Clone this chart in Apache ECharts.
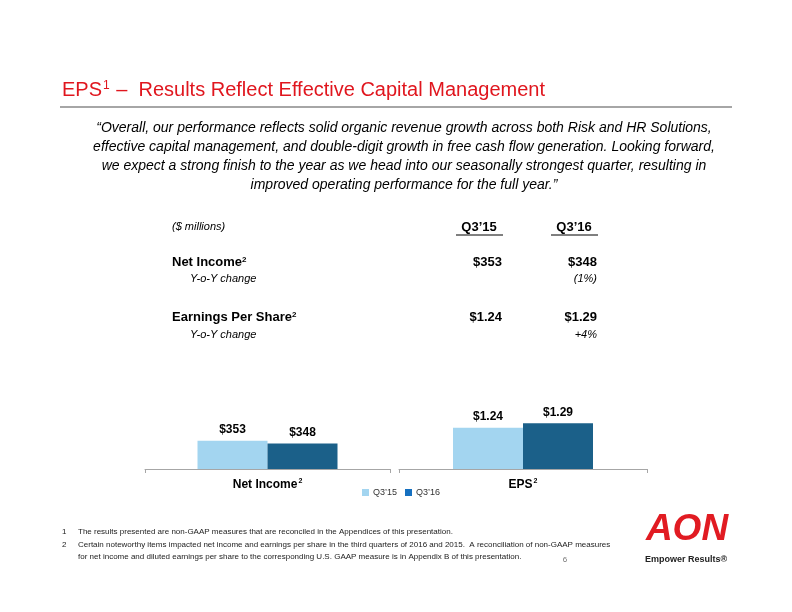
<!DOCTYPE html>
<html><head><meta charset="utf-8">
<script src="https://cdn.jsdelivr.net/npm/echarts@6/dist/echarts.min.js"></script>
<style>html,body{margin:0;padding:0;background:#fff}#c{width:792px;height:612px}</style>
</head><body><div id="c"></div>
<script>
const periods = ["Q3\u201915", "Q3\u201916"];
const netIncome = [353, 348];
const eps = [1.24, 1.29];
const netIncomeLabels = ["$353", "$348"];
const epsLabels = ["$1.24", "$1.29"];
const yoyNet = "(1%)";
const yoyEps = "+4%";
const categories = ["Net Income", "EPS"];

const F = "'Liberation Sans', Arial, sans-serif";
const lightBlue = "#A3D5F0";
const darkBlue = "#1B6089";
const red = "#E0161E";
const chart = echarts.init(document.getElementById('c'), null, {renderer: 'canvas'});

const quote = [
  "\u201cOverall, our performance reflects solid organic revenue growth across both Risk and HR Solutions,",
  "effective capital management, and double-digit growth in free cash flow generation. Looking forward,",
  "we expect a strong finish to the year as we head into our seasonally strongest quarter, resulting in",
  "improved operating performance for the full year.\u201d"
];

function txt(x, y, s, o) {
  return {type: 'text', x: x, y: y, style: Object.assign({text: s, fill: '#000', font: '12px ' + F, textVerticalAlign: 'middle'}, o || {})};
}
function supTxt(x, y, main, sup, size, bold) {
  return {type: 'text', x: x, y: y, style: {text: '{a|' + main + '}{s|' + sup + '}', textVerticalAlign: 'middle',
    rich: {a: {fontFamily: F, fontWeight: bold ? 'bold' : 'normal', fontSize: size, fill: '#000', color: '#000'},
           s: {fontFamily: F, fontWeight: bold ? 'bold' : 'normal', fontSize: Math.round(size * 0.65), color: '#000', fill: '#000', verticalAlign: 'top', padding: [0, 0, Math.round(size * 0.4), 0]}}}};
}
const g = [];
g.push({type: 'text', x: 62, y: 90, style: {text: '{a|EPS}{s|1}{a| \u2013  Results Reflect Effective Capital Management}', textVerticalAlign: 'middle', fill: red,
  rich: {a: {fontFamily: F, fontSize: 20, color: red, fill: red}, s: {fontFamily: F, fontSize: 12, color: red, fill: red, verticalAlign: 'top', padding: [0, 1, 9, 1]}}}});
g.push({type: 'line', shape: {x1: 60, y1: 107, x2: 732, y2: 107}, style: {stroke: '#A6A6A6', lineWidth: 2}});
quote.forEach((l, i) => g.push({type: 'text', x: 404, y: 128 + i * 19, style: {text: l, fill: '#000', font: 'italic 14px ' + F, textAlign: 'center', textVerticalAlign: 'middle'}}));

g.push(txt(172, 227, '($ millions)', {font: 'italic 11px ' + F}));
g.push(txt(479, 227, periods[0], {font: 'bold 13px ' + F, textAlign: 'center'}));
g.push(txt(574, 227, periods[1], {font: 'bold 13px ' + F, textAlign: 'center'}));
g.push({type: 'line', shape: {x1: 456, y1: 235, x2: 503, y2: 235}, style: {stroke: '#000', lineWidth: 1}});
g.push({type: 'line', shape: {x1: 551, y1: 235, x2: 598, y2: 235}, style: {stroke: '#000', lineWidth: 1}});

g.push(supTxt(172, 262, 'Net Income', '2', 13, true));
g.push(txt(502, 262, netIncomeLabels[0], {font: 'bold 13px ' + F, textAlign: 'right'}));
g.push(txt(597, 262, netIncomeLabels[1], {font: 'bold 13px ' + F, textAlign: 'right'}));
g.push(txt(190, 279, 'Y-o-Y change', {font: 'italic 11px ' + F}));
g.push(txt(597, 279, yoyNet, {font: 'italic 11px ' + F, textAlign: 'right'}));

g.push(supTxt(172, 317, 'Earnings Per Share', '2', 13, true));
g.push(txt(502, 317, epsLabels[0], {font: 'bold 13px ' + F, textAlign: 'right'}));
g.push(txt(597, 317, epsLabels[1], {font: 'bold 13px ' + F, textAlign: 'right'}));
g.push(txt(190, 335, 'Y-o-Y change', {font: 'italic 11px ' + F}));
g.push(txt(597, 335, yoyEps, {font: 'italic 11px ' + F, textAlign: 'right'}));

const fn = '8px ' + F;
g.push(txt(62, 532, '1', {font: fn, fill: '#222'}));
g.push(txt(78, 532, 'The results presented are non-GAAP measures that are reconciled in the Appendices of this presentation.', {font: fn, fill: '#222'}));
g.push(txt(62, 545, '2', {font: fn, fill: '#222'}));
g.push(txt(78, 545, 'Certain noteworthy items impacted net income and earnings per share in the third quarters of 2016 and 2015.  A reconciliation of non-GAAP measures', {font: fn, fill: '#222'}));
g.push(txt(78, 557, 'for net income and diluted earnings per share to the corresponding U.S. GAAP measure is in Appendix B of this presentation.', {font: fn, fill: '#222'}));
g.push(txt(565, 560, '6', {font: fn, fill: '#777', textAlign: 'center'}));

g.push(txt(687, 530, 'AON', {font: 'italic 900 37px ' + F, fill: '#E11B22', textAlign: 'center'}));
g.push(txt(686, 560, 'Empower Results\u00ae', {font: 'bold 9px ' + F, fill: '#222', textAlign: 'center'}));

function xAx(gi, name) {
  return {type: 'category', gridIndex: gi, data: [name],
    axisLine: {lineStyle: {color: '#A6A6A6', width: 1}},
    axisTick: {show: true, length: 4, lineStyle: {color: '#A6A6A6'}},
    axisLabel: {margin: 9, color: '#000', fontFamily: F, fontWeight: 'bold', fontSize: 12,
      formatter: v => '{a|' + v + '}{s|2}',
      rich: {a: {fontFamily: F, fontWeight: 'bold', fontSize: 12, color: '#000'}, s: {fontFamily: F, fontWeight: 'bold', fontSize: 7, color: '#000', verticalAlign: 'top', padding: [0, 0, 6, 1]}}}};
}
function yAx(gi, min, max) {
  return {type: 'value', gridIndex: gi, min: min, max: max, show: false, splitLine: {show: false}};
}
const lbl = {show: true, position: 'top', distance: 5, color: '#000', fontFamily: F, fontWeight: 'bold', fontSize: 12};

chart.setOption({
  animation: false,
  graphic: g,
  grid: [
    {left: 145, width: 245, top: 389, height: 80},
    {left: 399, width: 248, top: 389, height: 80}
  ],
  xAxis: [xAx(0, categories[0]), xAx(1, categories[1])],
  yAxis: [yAx(0, 300, 450), yAx(1, 0.77, 1.68)],
  legend: {
    left: 357, top: 483, itemWidth: 7, itemHeight: 7, itemGap: 8, icon: 'rect',
    textStyle: {fontFamily: F, fontSize: 9, color: '#333', padding: [0, 0, 0, -1]},
    data: [{name: periods[0], itemStyle: {color: lightBlue}}, {name: periods[1], itemStyle: {color: '#1570C0'}}]
  },
  series: [
    {name: periods[0], type: 'bar', xAxisIndex: 0, yAxisIndex: 0, data: [netIncome[0]], barWidth: 70, barGap: '0%', itemStyle: {color: lightBlue}, label: Object.assign({}, lbl, {formatter: () => netIncomeLabels[0]})},
    {name: periods[1], type: 'bar', xAxisIndex: 0, yAxisIndex: 0, data: [netIncome[1]], barWidth: 70, barGap: '0%', itemStyle: {color: darkBlue}, label: Object.assign({}, lbl, {formatter: () => netIncomeLabels[1]})},
    {name: periods[0], type: 'bar', xAxisIndex: 1, yAxisIndex: 1, data: [eps[0]], barWidth: 70, barGap: '0%', itemStyle: {color: lightBlue}, label: Object.assign({}, lbl, {formatter: () => epsLabels[0]})},
    {name: periods[1], type: 'bar', xAxisIndex: 1, yAxisIndex: 1, data: [eps[1]], barWidth: 70, barGap: '0%', itemStyle: {color: darkBlue}, label: Object.assign({}, lbl, {formatter: () => epsLabels[1]})}
  ]
});
</script></body></html>
